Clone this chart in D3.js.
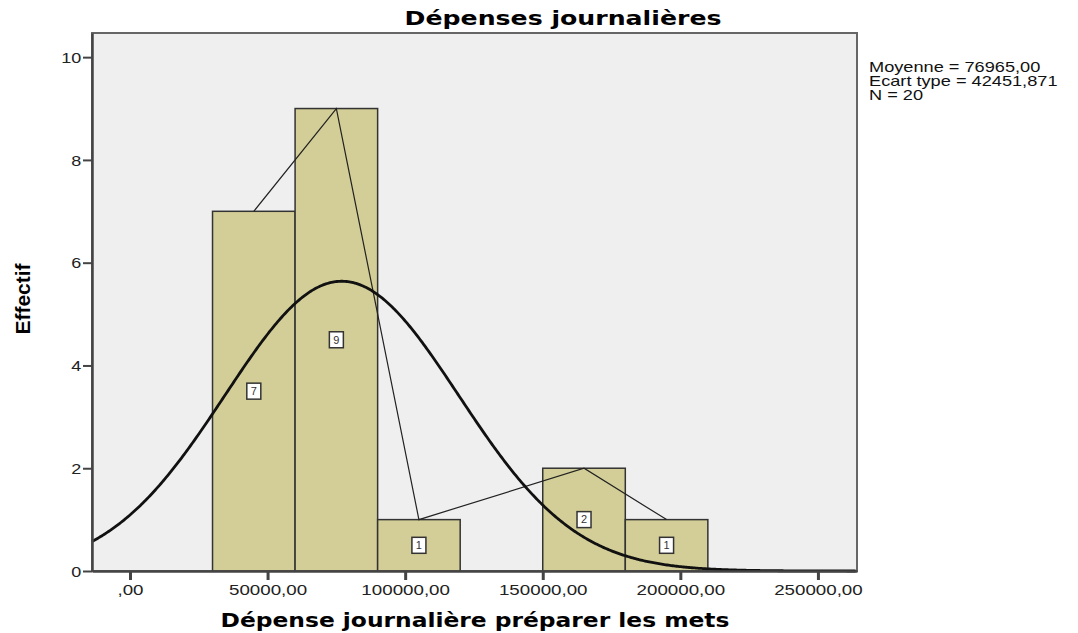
<!DOCTYPE html>
<html>
<head>
<meta charset="utf-8">
<script src="https://cdn.jsdelivr.net/npm/d3@7"></script>
<style>
  body { margin: 0; background: #fff; }
  svg { display: block; }
</style>
</head>
<body>
<div class="container"></div>
<script>
const binStarts = [30000, 60000, 90000, 150000, 180000];
const binWidth = 30000;
const counts = [7, 9, 1, 2, 1];
const xTicks = [0, 50000, 100000, 150000, 200000, 250000];
const yTicks = [0, 2, 4, 6, 8, 10];
const mean = 76965.00;
const sd = 42451.871;
const n = 20;
const statLines = ['Moyenne = 76965,00', 'Ecart type = 42451,871', 'N = 20'];

const w = 1078;
const h = 633;

const margin = {
    top: 33,
    right: 221,
    bottom: 62,
    left: 92
}

const svg = d3.select('.container')
    .append('svg')
    .attr('width', w)
    .attr('height', h);

const x = d3.scaleLinear()
    .domain([-13800, 264200])
    .range([margin.left, w - margin.right]);

const y = d3.scaleLinear()
    .domain([0, 10.47])
    .range([h - margin.bottom, margin.top]);

const fmt = d => d3.format('.2f')(d).replace('.', ',').replace(/^0/, '');

// plot background
svg.append('rect')
    .attr('x', margin.left)
    .attr('y', margin.top)
    .attr('width', w - margin.left - margin.right)
    .attr('height', h - margin.top - margin.bottom)
    .attr('fill', '#efefef')
    .attr('stroke', '#666')
    .attr('stroke-width', 2);

const bins = binStarts.map((s, i) => ({ x0: s, x1: s + binWidth, count: counts[i] }));

// bars
svg.append('g')
    .selectAll('rect')
    .data(bins)
    .join('rect')
    .attr('x', d => x(d.x0))
    .attr('y', d => y(d.count))
    .attr('width', d => x(d.x1) - x(d.x0))
    .attr('height', d => y(0) - y(d.count))
    .attr('fill', '#d3ce97')
    .attr('stroke', '#333')
    .attr('stroke-width', 1.5);

// frequency polygon
svg.append('path')
    .datum(bins)
    .attr('fill', 'none')
    .attr('stroke', '#222')
    .attr('stroke-width', 1.2)
    .attr('d', d3.line().x(d => x((d.x0 + d.x1) / 2)).y(d => y(d.count)));

// normal curve from mean / sd / N
const xs = d3.range(x.domain()[0], x.domain()[1], 500);
const norm = xs.map(v => [v, n * binWidth / (sd * Math.sqrt(2 * Math.PI)) * Math.exp(-0.5 * ((v - mean) / sd) ** 2)]);
svg.append('path')
    .datum(norm)
    .attr('fill', 'none')
    .attr('stroke', '#111')
    .attr('stroke-width', 2.8)
    .attr('d', d3.line().x(d => x(d[0])).y(d => y(d[1])));

// count labels
const lab = svg.append('g')
    .selectAll('g')
    .data(bins)
    .join('g')
    .attr('transform', d => `translate(${x((d.x0 + d.x1) / 2)},${y(d.count / 2)})`);
lab.append('rect')
    .attr('x', -7).attr('y', -8)
    .attr('width', 14).attr('height', 16)
    .attr('fill', '#fff')
    .attr('stroke', '#333')
    .attr('stroke-width', 1.5);
lab.append('text')
    .attr('text-anchor', 'middle')
    .attr('dy', '0.35em')
    .style('font-family', 'Liberation Sans, Arial, sans-serif')
    .style('font-size', '11px')
    .attr('fill', '#333')
    .text(d => d.count);

// axes
const xAxis = svg.append('g')
    .attr('transform', `translate(0,${h - margin.bottom})`)
    .call(d3.axisBottom(x).tickValues(xTicks).tickFormat(fmt).tickSize(9).tickSizeOuter(0).tickPadding(4));
const yAxis = svg.append('g')
    .attr('transform', `translate(${margin.left},0)`)
    .call(d3.axisLeft(y).tickValues(yTicks).tickSize(9).tickSizeOuter(0).tickPadding(2));

[xAxis, yAxis].forEach(a => {
    a.select('.domain').attr('stroke', '#444').attr('stroke-width', 2.5);
    a.selectAll('.tick line').attr('stroke', '#444').attr('stroke-width', 2);
    a.selectAll('.tick text')
        .attr('fill', '#222')
        .style('font-family', 'Liberation Sans, Arial, sans-serif')
        .style('font-size', '15px');
});
xAxis.selectAll('.tick line').attr('stroke-width', 3);
xAxis.selectAll('.tick text').attr('transform', 'scale(1.25,1)');
yAxis.selectAll('.tick text').attr('dy', '0.35em').attr('x', -9).attr('transform', 'scale(1.2,1)');

// titles (the source picture is stretched sideways)
svg.append('text')
    .attr('transform', 'translate(563,25) scale(1.26,1)')
    .attr('text-anchor', 'middle')
    .style('font-family', 'DejaVu Sans, Verdana, sans-serif')
    .style('font-size', '20px')
    .style('font-weight', 'bold')
    .text('Dépenses journalières');

svg.append('text')
    .attr('transform', 'translate(475,627) scale(1.23,1)')
    .attr('text-anchor', 'middle')
    .style('font-family', 'DejaVu Sans, Verdana, sans-serif')
    .style('font-size', '19px')
    .style('font-weight', 'bold')
    .text('Dépense journalière préparer les mets');

svg.append('text')
    .attr('transform', 'translate(30,299) rotate(-90)')
    .attr('text-anchor', 'middle')
    .style('font-family', 'Liberation Sans Narrow, Liberation Sans, Arial, sans-serif')
    .style('font-size', '21px')
    .style('font-weight', 'bold')
    .text('Effectif');

// stats
svg.append('g')
    .attr('transform', 'translate(869,0) scale(1.3,1)')
    .selectAll('text')
    .data(statLines)
    .join('text')
    .attr('x', 0)
    .attr('y', (d, i) => 72 + i * 14)
    .style('font-family', 'Liberation Sans, Arial, sans-serif')
    .style('font-size', '14px')
    .attr('fill', '#111')
    .text(d => d);
</script>
</body>
</html>
